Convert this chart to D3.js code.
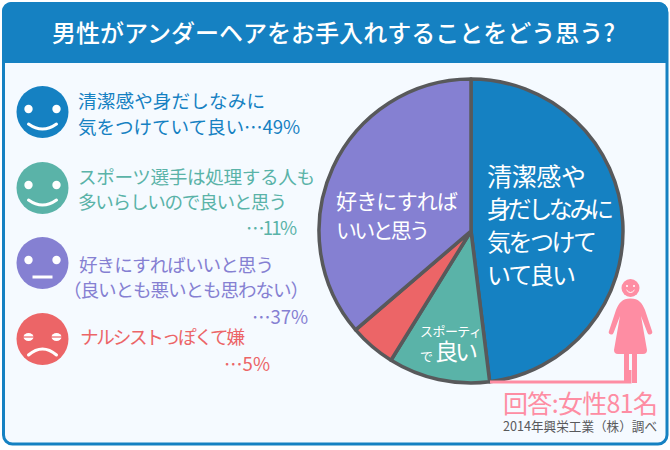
<!DOCTYPE html>
<html>
<head>
<meta charset="utf-8">
<script src="https://cdn.jsdelivr.net/npm/d3@7"></script>
<style>
  html, body { margin: 0; padding: 0; background: #fff; }
  text { font-family: "Noto Sans CJK JP", sans-serif; }
</style>
</head>
<body>
<div id="chart"></div>
<script>
var titleText = '男性がアンダーヘアをお手入れすることをどう思う?';
var categories = ['清潔感や身だしなみに気をつけていて良い', 'スポーツ選手は処理する人も多いらしいので良いと思う', 'ナルシストっぽくて嫌', '好きにすればいいと思う（良いとも悪いとも思わない）'];
var values = [49, 11, 5, 37];
var colors = ['#1581c2', '#5ab3a8', '#ec6567', '#8580d2'];
var moods = ['smile', 'smile', 'sad', 'flat'];
var legendLines = [
  ['清潔感や身だしなみに', '気をつけていて良い…49%'],
  ['スポーツ選手は処理する人も', '多いらしいので良いと思う', '…11%'],
  ['ナルシストっぽくて嫌', '…5%'],
  ['好きにすればいいと思う', '（良いとも悪いとも思わない）', '…37%']
];
var sourceText = '回答:女性81名';
var creditText = '2014年興栄工業（株）調べ';

var width = 670,
    height = 450,
    blue = '#1581c2',
    pink = '#fe8da3',
    cx = 471,
    cy = 231,
    radius = 152;

var svg = d3.select('#chart').append('svg')
    .attr('width', width)
    .attr('height', height)
    .style('display', 'block');

// frame and header
svg.append('rect')
    .attr('x', 3.5).attr('y', 3.5)
    .attr('width', 663.5).attr('height', 440.5)
    .attr('rx', 9)
    .attr('fill', '#f5faff')
    .attr('stroke', blue)
    .attr('stroke-width', 3);
svg.append('path')
    .attr('d', 'M2,63V11a9,9 0 0 1 9,-9H659a9,9 0 0 1 9,9V63Z')
    .attr('fill', blue);
svg.append('text')
    .attr('x', 52).attr('y', 42)
    .attr('font-size', 24)
    .attr('font-weight', 500)
    .attr('textLength', 563)
    .attr('fill', '#fff')
    .text(titleText);

// pie
var pie = d3.pie().sort(null).value(function(d) { return d; });
var arc = d3.arc().innerRadius(0).outerRadius(radius);
var pieG = svg.append('g').attr('transform', 'translate(' + cx + ',' + cy + ')');

// ground line from the pie to the figure
svg.append('path')
    .attr('d', 'M490,382H630V370')
    .attr('fill', 'none')
    .attr('stroke', pink)
    .attr('stroke-width', 3);

pieG.selectAll('path')
    .data(pie(values))
    .enter().append('path')
    .attr('d', arc)
    .attr('fill', function(d, i) { return colors[i]; })
    .attr('stroke', '#58595b')
    .attr('stroke-width', 3.5)
    .attr('stroke-linejoin', 'round');

// labels inside the pie, w is the ink width in the reference
var pieLabels = [
  { x: 487, y: 186, size: 25, w: 99, t: '清潔感や' },
  { x: 487, y: 218, size: 24, w: 127, t: '身だしなみに' },
  { x: 487, y: 251, size: 24, w: 110, t: '気をつけて' },
  { x: 487, y: 284, size: 24, w: 89, t: 'いて良い' },
  { x: 336, y: 209, size: 21, w: 122, t: '好きにすれば' },
  { x: 336, y: 238, size: 21, w: 94, t: 'いいと思う' },
  { x: 420, y: 336, size: 13, w: 62, t: 'スポーティ' },
  { x: 420, y: 361, size: 13, w: 12, t: 'で' },
  { x: 435, y: 360, size: 23, w: 43, t: '良い' }
];
svg.append('g').selectAll('text')
    .data(pieLabels)
    .enter().append('text')
    .attr('x', function(d) { return d.x; })
    .attr('y', function(d) { return d.y; })
    .attr('font-size', function(d) { return d.size; })
    .attr('textLength', function(d) { return d.w; })
    .attr('fill', '#fff')
    .text(function(d) { return d.t; });

// legend rows: face y, then [x, baseline, width] per text line
var legendRows = [
  { face: 112, lines: [[78, 108, 187], [78, 134, 222]] },
  { face: 188, lines: [[78, 184, 237], [78, 209, 209], [246, 235, 51]] },
  { face: 339, lines: [[80, 344, 165], [224, 371, 46]] },
  { face: 263, lines: [[79, 272, 195], [63, 297, 246], [252, 324, 56]] }
];

function drawFace(g, mood) {
  g.append('circle').attr('r', 26).attr('fill', 'currentColor');
  [-14, 14].forEach(function(x) {
    if (mood == 'sad') {
      g.append('ellipse').attr('cx', x).attr('cy', -2).attr('rx', 5).attr('ry', 4).attr('fill', '#fff');
      g.append('line').attr('x1', x - 6).attr('x2', x + 6).attr('y1', -2).attr('y2', -2)
          .attr('stroke', 'currentColor').attr('stroke-width', 1.2);
    } else {
      g.append('circle').attr('cx', x).attr('cy', -3).attr('r', 4.2).attr('fill', '#fff');
    }
  });
  var mouth = mood == 'smile' ? 'M-14,12Q0,22 14,12' : mood == 'sad' ? 'M-14,16Q0,4 14,16' : 'M-10,14H10';
  g.append('path')
      .attr('d', mouth)
      .attr('fill', 'none')
      .attr('stroke', '#fff')
      .attr('stroke-width', 3)
      .attr('stroke-linecap', mood == 'flat' ? 'butt' : 'round');
}

legendRows.forEach(function(row, i) {
  var g = svg.append('g').style('color', colors[i])
      .attr('transform', 'translate(42.5,' + row.face + ')');
  drawFace(g, moods[i]);
  svg.append('g').selectAll('text')
      .data(legendLines[i])
      .enter().append('text')
      .attr('x', function(d, j) { return row.lines[j][0]; })
      .attr('y', function(d, j) { return row.lines[j][1]; })
      .attr('textLength', function(d, j) { return row.lines[j][2]; })
      .attr('font-size', 18.6)
      .attr('fill', colors[i])
      .text(function(d) { return d; });
});

// woman figure
var fig = svg.append('g').attr('fill', pink);
fig.append('circle').attr('cx', 630.5).attr('cy', 288).attr('r', 9);
fig.append('path')
    .attr('d', 'M630.5,298.5C622,298.5 619,303 616,310L609,331A2.3,2.3 0 0 0 613.5,333L620,316L614,350Q614,354 618,354H643Q647,354 647,350L641,316L647.5,333A2.3,2.3 0 0 0 652,331L645,310C642,303 639,298.5 630.5,298.5Z');
fig.append('rect').attr('x', 624).attr('y', 354).attr('width', 5).attr('height', 29);
fig.append('rect').attr('x', 632).attr('y', 354).attr('width', 5).attr('height', 29);
fig.append('path')
    .attr('d', 'M626.5,290Q630.5,295 634.5,290')
    .attr('fill', 'none').attr('stroke', '#fff').attr('stroke-width', 1);
fig.selectAll('.eye').data([-3.5, 3.5]).enter().append('circle')
    .attr('cx', function(d) { return 630.5 + d; })
    .attr('cy', 286).attr('r', 1).attr('fill', '#fff');

svg.append('text')
    .attr('x', 503).attr('y', 413)
    .attr('font-size', 25)
    .attr('textLength', 155)
    .attr('fill', pink)
    .text(sourceText);
svg.append('text')
    .attr('x', 503).attr('y', 431)
    .attr('font-size', 12.6)
    .attr('textLength', 154)
    .attr('fill', '#58595b')
    .text(creditText);
</script>
</body>
</html>
